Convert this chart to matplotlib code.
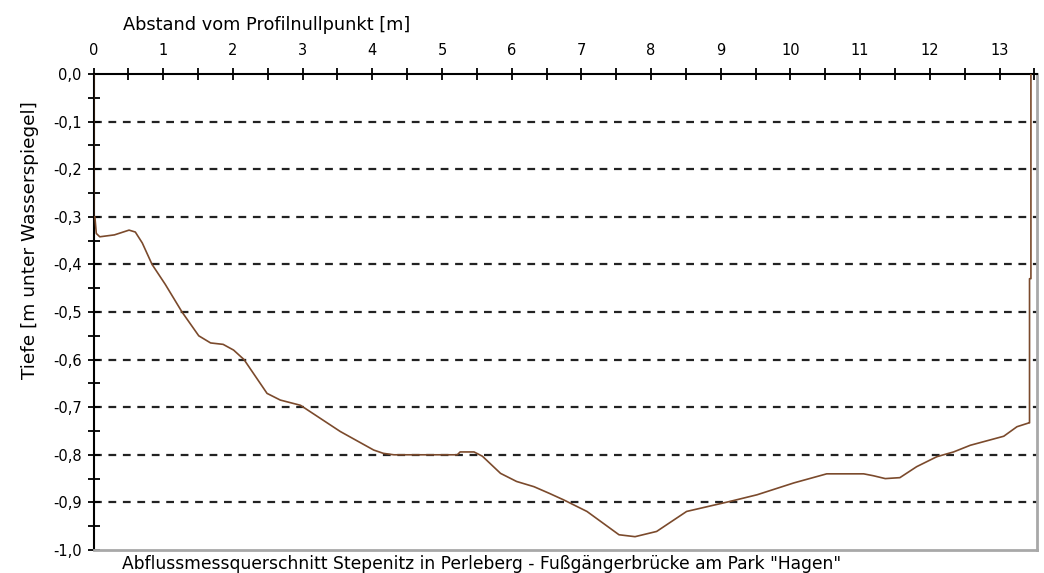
import matplotlib
matplotlib.use("Agg")
import matplotlib.pyplot as plt
from matplotlib.ticker import MultipleLocator, FuncFormatter

plt.rcParams['font.family'] = ['DejaVu Sans']

# Profile data (distance from zero point [m], depth [m])
dist = [0, 0, 0.02, 0.04, 0.09, 0.3, 0.51, 0.6, 0.7, 0.84, 1.03, 1.27, 1.51, 1.68,
        1.86, 2.01, 2.16, 2.49, 2.68, 2.97, 3.54, 4.02, 4.16, 4.31, 5.22, 5.26,
        5.46, 5.58, 5.84, 6.07, 6.32, 6.54, 6.75, 7.08, 7.54, 7.77, 8.08, 8.51,
        9.13, 9.52, 10.05, 10.52, 11.05, 11.19, 11.36, 11.57, 11.81, 12.1, 12.34,
        12.58, 13.06, 13.25, 13.42, 13.43, 13.43, 13.45, 13.45]
depth = [0, -0.3, -0.3, -0.335, -0.342, -0.338, -0.328, -0.332, -0.355, -0.40,
         -0.442, -0.50, -0.55, -0.565, -0.568, -0.58, -0.60, -0.671, -0.685,
         -0.696, -0.751, -0.79, -0.797, -0.80, -0.80, -0.794, -0.794, -0.803,
         -0.839, -0.856, -0.867, -0.881, -0.895, -0.919, -0.968, -0.972, -0.961,
         -0.919, -0.898, -0.884, -0.859, -0.84, -0.84, -0.844, -0.85, -0.848,
         -0.825, -0.804, -0.794, -0.78, -0.761, -0.741, -0.733, -0.733, -0.43,
         -0.43, 0]

x_ticks = list(range(0, 14))
y_ticks = [0.0, -0.1, -0.2, -0.3, -0.4, -0.5, -0.6, -0.7, -0.8, -0.9, -1.0]

xlabel = "Abstand vom Profilnullpunkt [m]"
ylabel = "Tiefe [m unter Wasserspiegel]"
title = 'Abflussmessquerschnitt Stepenitz in Perleberg - Fußgängerbrücke am Park "Hagen"'

fig = plt.figure(figsize=(10.44, 5.73), dpi=100)
ax = fig.add_axes([93.5/1044, 23/573, (1036.5-93.5)/1044, 476/573])

ax.plot(dist, depth, color='#7b4a2c', lw=1.2, solid_joinstyle='round', zorder=3)

ax.set_xlim(0, 13.53)
ax.set_ylim(-1.0, 0.0)

ax.xaxis.tick_top()
ax.set_xticks(x_ticks)
ax.xaxis.set_minor_locator(MultipleLocator(0.5))
ax.set_yticks(y_ticks)
ax.yaxis.set_minor_locator(MultipleLocator(0.05))
ax.yaxis.set_major_formatter(FuncFormatter(lambda v, p: f"{v:.1f}".replace('.', ',').replace('-0,0', '0,0')))

ax.tick_params(axis='both', which='both', direction='inout', length=9, width=1.3,
               color='black', labelsize=10.5)
ax.tick_params(axis='x', which='both', pad=7, top=True, bottom=False)
ax.tick_params(axis='y', which='both', pad=4, left=True, right=False)

for v in y_ticks[1:-1]:
    ax.axhline(v, color='#222222', lw=1.6, ls=(0, (3.5, 3)), zorder=1)

ax.spines['top'].set_color('black')
ax.spines['top'].set_linewidth(1.5)
ax.spines['left'].set_color('black')
ax.spines['left'].set_linewidth(1.5)
ax.spines['bottom'].set_color('#a8a8a8')
ax.spines['bottom'].set_linewidth(2)
ax.spines['right'].set_color('#a8a8a8')
ax.spines['right'].set_linewidth(2)

fig.text(123/1044, 1 - 25/573, xlabel, ha='left', va='center', fontsize=12.8)
fig.text(30/1044, 1 - 240/573, ylabel, ha='center', va='center', rotation=90, fontsize=13.3)
fig.text(122/1044, 1 - 555/573, title, ha='left', va='top', fontsize=12.3)

fig.savefig('out.png', dpi=100)
